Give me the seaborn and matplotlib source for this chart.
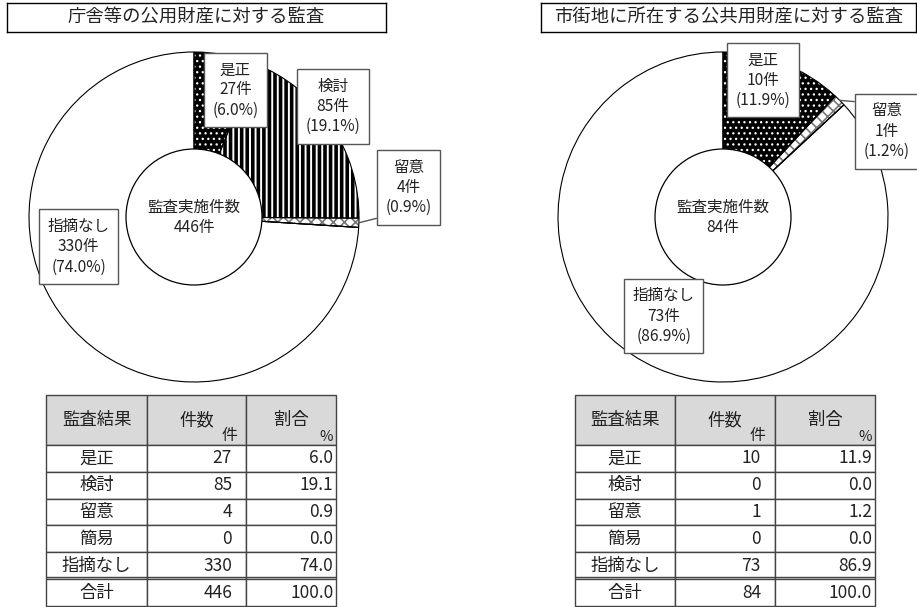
import seaborn as sns
import numpy as np
import matplotlib.pyplot as plt
from matplotlib.patches import Circle

sns.set_style("white")
plt.rcParams["font.family"] = ["Noto Sans CJK JP", "DejaVu Sans"]
plt.rcParams["hatch.linewidth"] = 1.6
plt.rcParams["text.color"] = "#222222"

categories = ["是正", "検討", "留意", "簡易", "指摘なし"]

left_title = "庁舎等の公用財産に対する監査"
left_counts = [27, 85, 4, 0, 330]
left_pct = [6.0, 19.1, 0.9, 0.0, 74.0]
left_total = 446

right_title = "市街地に所在する公共用財産に対する監査"
right_counts = [10, 0, 1, 0, 73]
right_pct = [11.9, 0.0, 1.2, 0.0, 86.9]
right_total = 84

W, H = 917, 607
R = 165  # pie radius in px

# face, hatch colour, hatch, hatch linewidth
styles = {
    "是正": ("black", "white", "...", 0.9),
    "検討": ("white", "black", "|||", 2.6),
    "留意": ("white", "#777777", "xxx", 1.2),
    "簡易": ("white", "black", "", 1.0),
    "指摘なし": ("white", "black", "", 1.0),
}

fig = plt.figure(figsize=(W / 100, H / 100), dpi=100)


def title_box(x0, x1, text):
    ax = fig.add_axes([x0 / W, 1 - 32 / H, (x1 - x0) / W, 29 / H])
    ax.set_xticks([])
    ax.set_yticks([])
    for s in ax.spines.values():
        s.set_color("black")
        s.set_linewidth(1)
    ax.text(0.5, 0.48, text, ha="center", va="center", fontsize=13.2,
            transform=ax.transAxes)


def donut(cx, cy, counts, pct, total, label_pos, leader):
    half = 172
    ax = fig.add_axes([(cx - half) / W, 1 - (cy + half) / H, 2 * half / W, 2 * half / H])
    wedges, _ = ax.pie(counts, startangle=90, counterclock=False)
    for w, cat in zip(wedges, categories):
        face, edge, hatch, hlw = styles[cat]
        w.set_facecolor(face)
        w.set_edgecolor(edge)
        w.set_hatch(hatch)
        w.set_linewidth(0)
        if hasattr(w, "set_hatch_linewidth"):
            w.set_hatch_linewidth(hlw)
    ax.pie(counts, startangle=90, counterclock=False,
           wedgeprops=dict(fill=False, edgecolor="black", linewidth=0.8))
    lim = half / R
    ax.set_xlim(-lim, lim)
    ax.set_ylim(-lim, lim)
    ax.set_aspect("equal")
    ax.axis("off")

    ax.add_patch(Circle((0, 0), 68 / R, facecolor="white", edgecolor="black",
                        linewidth=0.9, zorder=3))
    ax.text(0, 0, f"監査実施件数\n{total}件", ha="center", va="center",
            fontsize=11.2, linespacing=1.25, zorder=4)

    box = dict(boxstyle="square,pad=0.55", facecolor="white", edgecolor="#555555",
               linewidth=1)
    for w, cat, n, p in zip(wedges, categories, counts, pct):
        if n == 0:
            continue
        txt = f"{cat}\n{n}件\n({p:.1f}%)"
        if cat in leader:
            ang = np.deg2rad((w.theta1 + w.theta2) / 2)
            ax.annotate(txt, xy=(np.cos(ang), np.sin(ang)), xytext=label_pos[cat],
                        ha="center", va="center", fontsize=11.2, linespacing=1.25,
                        bbox=box, zorder=5,
                        arrowprops=dict(arrowstyle="-", color="#555555", lw=1,
                                        relpos=leader[cat], shrinkA=0, shrinkB=0))
        else:
            ax.text(*label_pos[cat], txt, ha="center", va="center", fontsize=11.2,
                    linespacing=1.25, bbox=box, zorder=5)


def table(x0, widths, counts, pct, total):
    x1 = x0 + sum(widths)
    y0, y1 = 395, 606
    ax = fig.add_axes([x0 / W, 1 - y1 / H, (x1 - x0) / W, (y1 - y0) / H])
    ax.axis("off")
    rows = [[c, str(n), f"{p:.1f}"] for c, n, p in zip(categories, counts, pct)]
    rows.append(["合計", str(total), f"{sum(pct):.1f}"])
    tot = sum(widths)
    tab = ax.table(cellText=rows, colLabels=["監査結果", "件数", "割合"],
                   colWidths=[w / tot for w in widths], bbox=[0, 0, 1, 1],
                   cellLoc="right")
    tab.auto_set_font_size(False)
    tab.set_fontsize(12.5)
    for (r, c), cell in tab.get_celld().items():
        cell.set_edgecolor("#444444")
        cell.set_linewidth(1)
        cell.set_height(50 if r == 0 else 27)
        if r == 0:
            cell.set_facecolor("#d9d9d9")
            cell.set_text_props(ha="center", va="center")
        elif c == 0:
            cell.set_text_props(ha="center")
        elif c == 1:
            cell.PAD = 0.14
        else:
            cell.PAD = 0.03
    hb = 1 - 50 / 212
    ax.text((widths[0] + widths[1]) / tot - 0.03, hb + 0.005, "件", ha="right",
            va="bottom", fontsize=11.5, transform=ax.transAxes)
    ax.text(1 - 0.012, hb + 0.005, "%", ha="right", va="bottom", fontsize=10.5,
            transform=ax.transAxes)
    ax.axhline(29.5 / 212, color="#444444", lw=1, zorder=10)


title_box(7, 386, left_title)
title_box(541, 916, right_title)

donut(194, 217, left_counts, left_pct, left_total,
      {"是正": (0.25, 0.77), "検討": (0.84, 0.67), "留意": (1.30, 0.18),
       "指摘なし": (-0.70, -0.18)},
      {"留意": (0, 0)})
donut(723, 217, right_counts, right_pct, right_total,
      {"是正": (0.24, 0.83), "留意": (0.99, 0.52), "指摘なし": (-0.36, -0.60)},
      {"留意": (0, 1)})

table(46, [101, 99, 90], left_counts, left_pct, left_total)
table(575, [100, 100, 100], right_counts, right_pct, right_total)

fig.savefig("out.png", dpi=100)
